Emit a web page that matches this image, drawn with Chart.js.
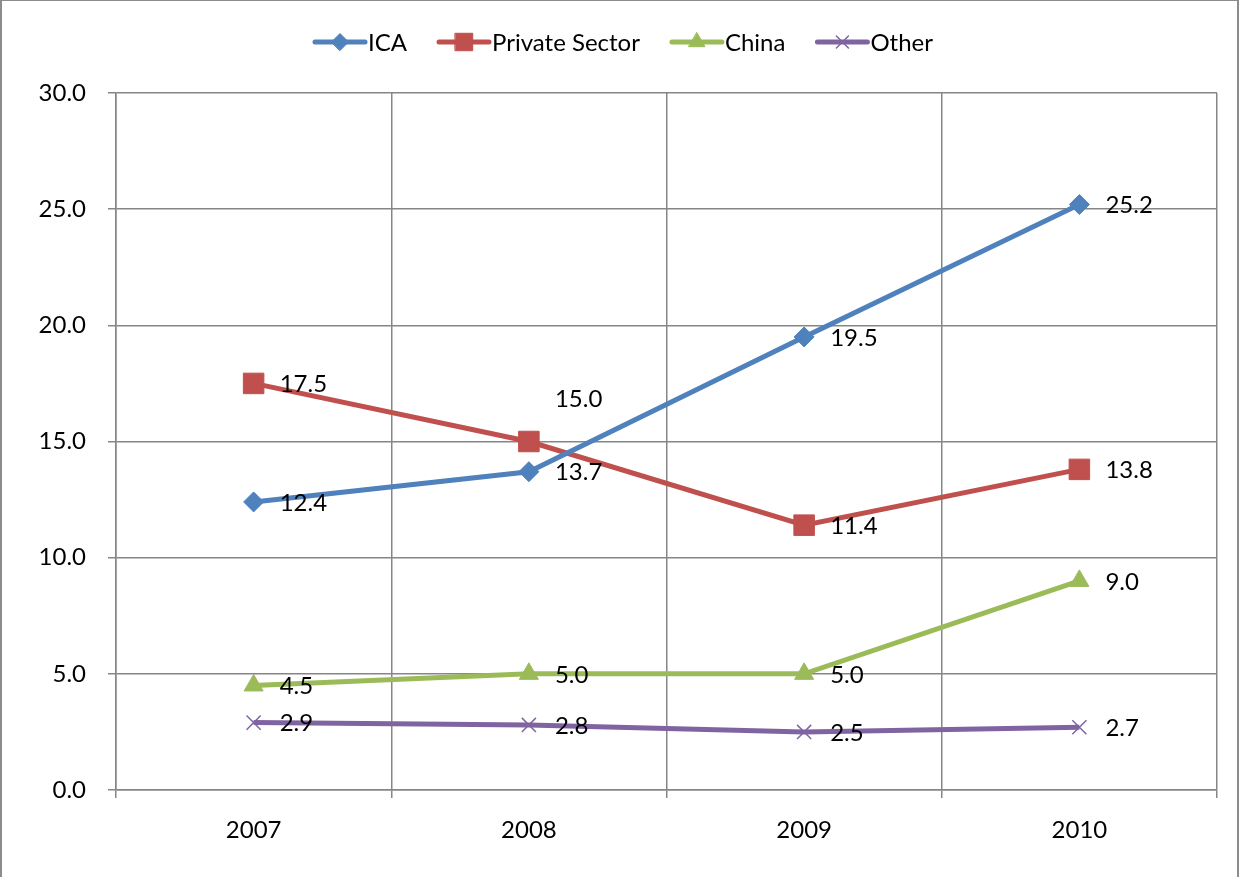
<!DOCTYPE html>
<html>
<head>
<meta charset="utf-8">
<script src="https://cdn.jsdelivr.net/npm/chart.js@4.4.0/dist/chart.umd.min.js"></script>
<style>
    html, body { margin: 0; padding: 0; background: #fff; }
    #wrap { position: relative; width: 1239px; height: 877px; }
    #frame { position: absolute; left: 0; top: 0; width: 1235px; height: 900px;
             border-left: 2px solid #8c8c8c; border-top: 1px solid #8c8c8c; border-right: 2px solid #8c8c8c; }
    canvas { position: absolute; left: 0; top: 0; }
</style>
</head>
<body>
<div id="wrap">
    <canvas id="grafico" width="1239" height="877"></canvas>
    <div id="frame"></div>
</div>
<script>
// Datos del gráfico
const years = ['2007', '2008', '2009', '2010'];
const ica = [12.4, 13.7, 19.5, 25.2];
const privateSector = [17.5, 15.0, 11.4, 13.8];
const china = [4.5, 5.0, 5.0, 9.0];
const other = [2.9, 2.8, 2.5, 2.7];

const FONT = "Lato, 'Open Sans', sans-serif";
const FSIZE = 24;

// Etiquetas de datos a la derecha de cada punto
const dataLabels = {
    id: 'dataLabels',
    afterDatasetsDraw(chart) {
        const ctx = chart.ctx;
        ctx.save();
        ctx.font = FSIZE + 'px ' + FONT;
        ctx.fillStyle = '#000';
        ctx.textAlign = 'left';
        ctx.textBaseline = 'middle';
        chart.data.datasets.forEach((ds, i) => {
            chart.getDatasetMeta(i).data.forEach((pt, j) => {
                let dy = 1;
                // la etiqueta 15.0 de Private Sector va por encima
                if (ds.label === 'Private Sector' && j === 1) dy = -42;
                ctx.fillText(ds.data[j].toFixed(1), pt.x + 26, pt.y + dy);
            });
        });
        ctx.restore();
    }
};

// Leyenda con línea + marcador, como Excel
const excelLegend = {
    id: 'excelLegend',
    afterDraw(chart) {
        const ctx = chart.ctx;
        ctx.save();
        ctx.font = FSIZE + 'px ' + FONT;
        const lineW = 56, gap = 29, y = 42;
        const items = chart.data.datasets.map(ds => ({ ds, w: lineW + ctx.measureText(ds.label).width }));
        const total = items.reduce((s, it) => s + it.w, 0) + gap * (items.length - 1);
        let x = (chart.width - total) / 2 + 3;
        items.forEach(it => {
            const ds = it.ds;
            ctx.strokeStyle = ds.borderColor;
            ctx.lineWidth = 5;
            ctx.lineCap = 'round';
            ctx.beginPath();
            ctx.moveTo(x + 3, y);
            ctx.lineTo(x + lineW - 3, y);
            ctx.stroke();
            ctx.fillStyle = ds.borderColor;
            ctx.strokeStyle = ds.borderColor;
            ctx.lineWidth = ds.pointBorderWidth || 1;
            Chart.helpers.drawPoint(ctx, {
                pointStyle: ds.pointStyle, rotation: 0,
                borderWidth: ds.pointBorderWidth || 1, radius: ds.pointRadius * 0.85
            }, x + lineW / 2, y);
            ctx.fillStyle = '#000';
            ctx.textAlign = 'left';
            ctx.textBaseline = 'middle';
            ctx.fillText(ds.label, x + lineW, y + 1);
            x += it.w + gap;
        });
        ctx.restore();
    }
};

window.addEventListener('DOMContentLoaded', function() {
    new Chart(document.getElementById('grafico'), {
        type: 'line',
        data: {
            labels: years,
            datasets: [
                {
                    label: 'ICA', data: ica, borderColor: '#4F81BD', backgroundColor: '#4F81BD',
                    pointStyle: 'rectRot', pointRadius: 10
                },
                {
                    label: 'Private Sector', data: privateSector, borderColor: '#C0504D', backgroundColor: '#C0504D',
                    pointStyle: 'rect', pointRadius: 14.5
                },
                {
                    label: 'China', data: china, borderColor: '#9BBB59', backgroundColor: '#9BBB59',
                    pointStyle: 'triangle', pointRadius: 11
                },
                {
                    label: 'Other', data: other, borderColor: '#8064A2', backgroundColor: '#8064A2',
                    pointStyle: 'crossRot', pointRadius: 10, pointBorderWidth: 1.5
                }
            ]
        },
        options: {
            responsive: false,
            animation: false,
            layout: { padding: { left: 0, right: 22, top: 93, bottom: 0 } },
            elements: {
                line: { borderWidth: 5, tension: 0 },
                point: { borderWidth: 1 }
            },
            plugins: {
                legend: { display: false },
                tooltip: { enabled: false }
            },
            scales: {
                x: {
                    offset: true,
                    grid: { offset: true, color: '#868686', lineWidth: 1.5, tickLength: 8, drawTicks: true },
                    border: { color: '#868686', width: 1.5 },
                    ticks: { color: '#000', font: { family: FONT, size: FSIZE }, padding: 18 },
                    afterFit(scale) { scale.height = 87; }
                },
                y: {
                    min: 0, max: 30,
                    grid: { color: '#868686', lineWidth: 1.5, tickLength: 8 },
                    border: { color: '#868686', width: 1.5 },
                    ticks: {
                        stepSize: 5, color: '#000', font: { family: FONT, size: FSIZE }, padding: 22,
                        callback: v => v.toFixed(1)
                    },
                    afterFit(scale) { scale.width = 116; }
                }
            }
        },
        plugins: [dataLabels, excelLegend]
    });
});
</script>
</body>
</html>
